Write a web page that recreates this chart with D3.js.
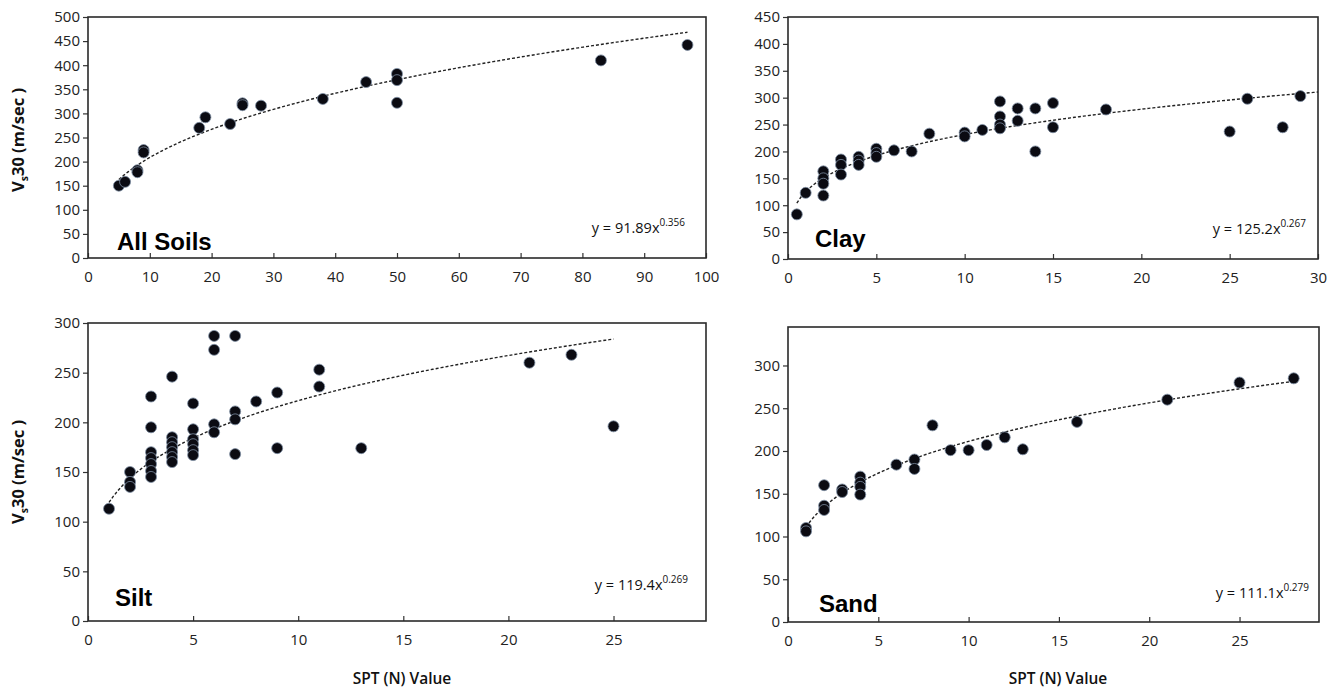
<!DOCTYPE html>
<html>
<head>
<meta charset="utf-8">
<script src="https://cdn.jsdelivr.net/npm/d3@7"></script>
<style>
  html, body { margin: 0; padding: 0; background: #fff; }
  svg { display: block; }
  .tick text { font-family: "Open Sans", "DejaVu Sans", sans-serif; font-size: 15px; fill: #222; }
</style>
</head>
<body>
<svg id="chart" width="1338" height="693"></svg>
<script>
// ---------- Data ----------
const allSoilsX = [5, 6, 8, 8, 9, 9, 18, 19, 23, 25, 25, 28, 38, 45, 50, 50, 50, 83, 97];
const allSoilsY = [150, 158, 182, 178, 224, 219, 270, 292, 278, 321, 317, 316, 330, 365, 382, 369, 322, 410, 442];

const clayX = [0.5, 1, 2, 2, 2, 2, 3, 3, 3, 4, 4, 4, 5, 5, 5, 6, 7, 8, 10, 10, 11, 12, 12, 12, 12, 13, 13, 14, 14, 15, 15, 18, 25, 26, 28, 29];
const clayY = [83, 123, 163, 150, 140, 118, 185, 175, 157, 190, 183, 175, 205, 197, 190, 202, 200, 233, 235, 228, 240, 293, 265, 250, 243, 280, 257, 280, 200, 290, 245, 278, 237, 298, 245, 303];

const siltX = [1, 2, 2, 2, 3, 3, 3, 3, 3, 3, 3, 4, 4, 4, 4, 4, 4, 4, 5, 5, 5, 5, 5, 5, 6, 6, 6, 6, 7, 7, 7, 7, 8, 9, 9, 11, 11, 13, 21, 23, 25];
const siltY = [113, 150, 140, 135, 226, 195, 170, 164, 158, 151, 145, 246, 185, 180, 175, 170, 165, 160, 219, 193, 183, 178, 172, 167, 287, 273, 198, 190, 287, 211, 203, 168, 221, 230, 174, 253, 236, 174, 260, 268, 196];

const sandX = [1, 1, 2, 2, 2, 3, 3, 4, 4, 4, 4, 6, 7, 7, 8, 9, 10, 11, 12, 13, 16, 21, 25, 28];
const sandY = [110, 106, 160, 136, 131, 155, 152, 170, 163, 158, 149, 184, 190, 179, 230, 201, 201, 207, 216, 202, 234, 260, 280, 285];

// Power-law fits shown on the chart: y = a * x^b
const fitCoef = [91.89, 125.2, 119.4, 111.1];
const fitExp = [0.356, 0.267, 0.269, 0.279];
const fitRangeX = [[5, 97], [0.5, 30], [1, 25], [1, 28]];

const panelNames = ["All Soils", "Clay", "Silt", "Sand"];
const xDomains = [[0, 100], [0, 30], [0, 29.4], [0, 29.4]];
const yDomains = [[0, 500], [0, 450], [0, 300], [0, 345]];
const xTickValues = [d3.range(0, 101, 10), d3.range(0, 31, 5), d3.range(0, 26, 5), d3.range(0, 26, 5)];
const yTickValues = [d3.range(0, 501, 50), d3.range(0, 451, 50), d3.range(0, 301, 50), d3.range(0, 301, 50)];
const xTitle = "SPT (N) Value";

// ---------- Layout ----------
const boxes = [
  { left: 88, right: 706, top: 17, bottom: 258 },
  { left: 788, right: 1318, top: 17, bottom: 259 },
  { left: 88, right: 706, top: 323, bottom: 621 },
  { left: 788, right: 1319, top: 327, bottom: 622 }
];
const nameBaseline = [250, 247, 606, 612];
const eqPos = [[685, 233], [1306, 234], [688, 590], [1309, 598]];

const seriesX = [allSoilsX, clayX, siltX, sandX];
const seriesY = [allSoilsY, clayY, siltY, sandY];

const svg = d3.select("#chart");

boxes.forEach((b, i) => {
  const x = d3.scaleLinear().domain(xDomains[i]).range([b.left, b.right]);
  const y = d3.scaleLinear().domain(yDomains[i]).range([b.bottom, b.top]);
  const g = svg.append("g");

  // x axis (ticks pointing inward)
  const xa = g.append("g").attr("transform", `translate(0,${b.bottom})`)
    .call(d3.axisBottom(x).tickValues(xTickValues[i]).tickSizeInner(-5).tickSizeOuter(0).tickPadding(13));
  xa.select(".domain").remove();
  xa.selectAll(".tick line").attr("stroke", "#333").attr("stroke-width", 1.2);

  // y axis (ticks pointing outward)
  const ya = g.append("g").attr("transform", `translate(${b.left},0)`)
    .call(d3.axisLeft(y).tickValues(yTickValues[i]).tickSizeInner(5).tickSizeOuter(0).tickPadding(3));
  ya.select(".domain").remove();
  ya.selectAll(".tick line").attr("stroke", "#333").attr("stroke-width", 1.2);

  // plot frame
  g.append("rect")
    .attr("x", b.left).attr("y", b.top)
    .attr("width", b.right - b.left).attr("height", b.bottom - b.top)
    .attr("fill", "none").attr("stroke", "#2a2a2a").attr("stroke-width", 1.6);

  // trend line
  const [x0, x1] = fitRangeX[i];
  const xs = d3.range(0, 121).map(k => x0 + (x1 - x0) * k / 120);
  const line = d3.line().x(d => x(d)).y(d => y(fitCoef[i] * Math.pow(d, fitExp[i])));
  g.append("path").datum(xs)
    .attr("d", line).attr("fill", "none")
    .attr("stroke", "#222").attr("stroke-width", 1.4).attr("stroke-dasharray", "3,2");

  // points
  const pts = seriesX[i].map((v, k) => [v, seriesY[i][k]]);
  g.append("g").selectAll("circle").data(pts).join("circle")
    .attr("cx", d => x(d[0])).attr("cy", d => y(d[1])).attr("r", 5.5)
    .attr("fill", "#0b0b12").attr("stroke", "#7d8ea3").attr("stroke-width", 0.8);

  // panel name
  g.append("text")
    .attr("x", [117, 815, 115, 819][i]).attr("y", nameBaseline[i])
    .attr("font-family", "Liberation Sans, Arial, sans-serif")
    .attr("font-weight", "bold").attr("font-size", 24).attr("fill", "#000")
    .text(panelNames[i]);

  // equation
  const eq = g.append("text")
    .attr("x", eqPos[i][0]).attr("y", eqPos[i][1])
    .attr("text-anchor", "end")
    .attr("font-family", "Open Sans, DejaVu Sans, sans-serif")
    .attr("font-size", 14.5).attr("fill", "#111");
  eq.append("tspan").text(`y = ${fitCoef[i]}x`);
  eq.append("tspan").attr("dy", -7).attr("font-size", 10).text(fitExp[i].toFixed(3));
});

// y axis titles (left panels)
[[18, 140], [18, 472]].forEach(([cx, cy]) => {
  const t = svg.append("text")
    .attr("transform", `translate(${cx + 6},${cy}) rotate(-90)`)
    .attr("text-anchor", "middle")
    .attr("font-family", "Open Sans, DejaVu Sans, sans-serif")
    .attr("font-weight", "bold").attr("font-size", 16.5).attr("fill", "#111");
  t.append("tspan").text("V");
  t.append("tspan").attr("font-size", 10.5).attr("dy", 4).text("s");
  t.append("tspan").attr("dy", -4).text("30 (m/sec )");
});

// x axis titles (bottom panels)
[[402, 684], [1058, 684]].forEach(([cx, cy]) => {
  svg.append("text")
    .attr("x", cx).attr("y", cy)
    .attr("text-anchor", "middle")
    .attr("font-family", "Open Sans, DejaVu Sans, sans-serif")
    .attr("font-weight", 600).attr("font-size", 15.5).attr("fill", "#111")
    .text(xTitle);
});
</script>
</body>
</html>
